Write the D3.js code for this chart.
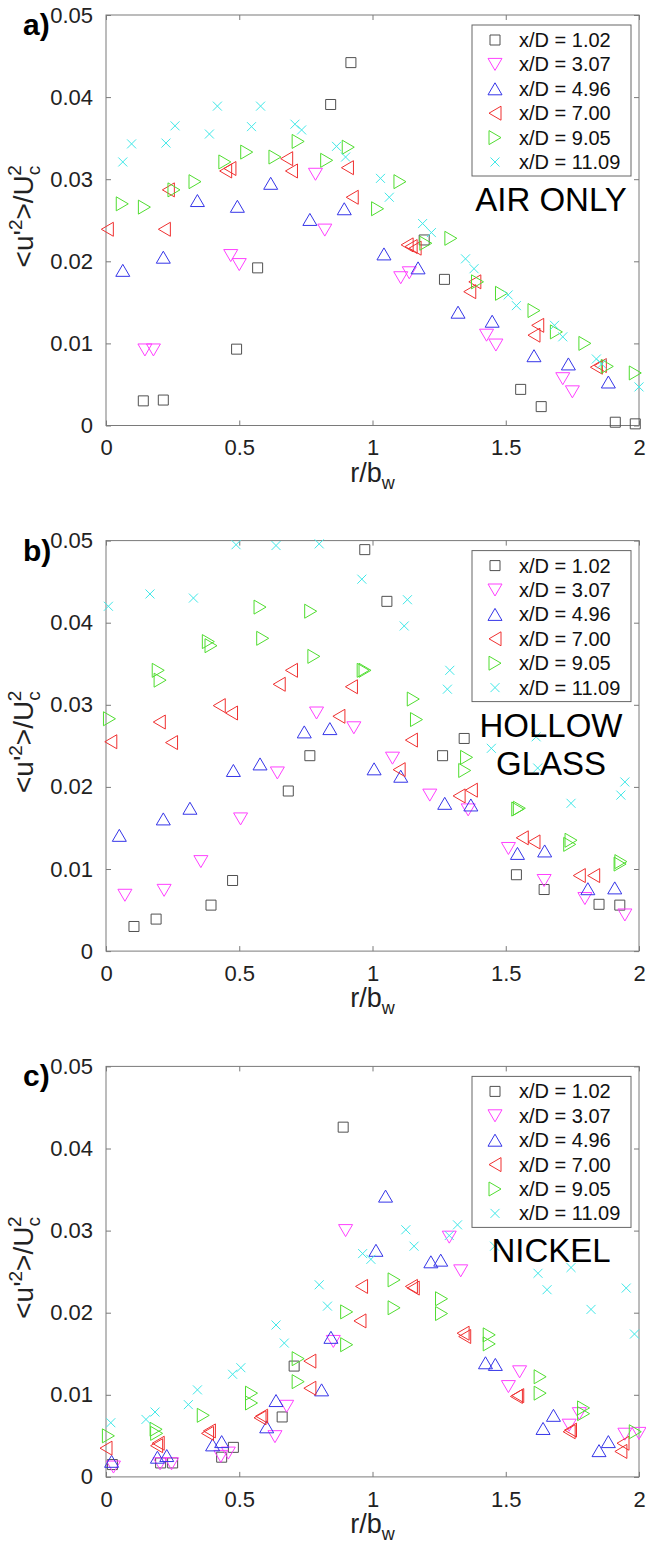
<!DOCTYPE html>
<html><head><meta charset="utf-8">
<script src="https://cdn.jsdelivr.net/npm/d3@7"></script>
<style>body{margin:0;background:#fff}svg{display:block}text{font-family:"Liberation Sans",Arial,Helvetica,sans-serif}</style>
</head><body><svg id="c" width="646" height="1547"></svg>
<script>
// ---------- data ----------
const seriesLabels = ["x/D = 1.02","x/D = 3.07","x/D = 4.96","x/D = 7.00","x/D = 9.05","x/D = 11.09"];
const markerTypes = ["square","down","up","left","right","cross"];
const seriesColors = ["#505050","#ff40ff","#3535e8","#f03030","#50dd30","#40e8e8"];
const xTickValues = [0,0.5,1,1.5,2];
const xTickLabels = ["0","0.5","1","1.5","2"];
const yTickValues = [0,0.01,0.02,0.03,0.04,0.05];
const yTickLabels = ["0","0.01","0.02","0.03","0.04","0.05"];
const panelLetters = ["a)","b)","c)"];
const panelTitles = [["AIR ONLY"],["HOLLOW","GLASS"],["NICKEL"]];

// panel a: AIR ONLY
const airK = [[0.14,0.0030],[0.215,0.0031],[0.49,0.0093],[0.569,0.0192],[0.843,0.0391],[0.919,0.0442],[1.194,0.0226],[1.27,0.0178],[1.556,0.0044],[1.633,0.0023],[1.911,0.0004],[1.986,0.0002]];
const airM = [[0.146,0.0092],[0.178,0.0092],[0.468,0.0207],[0.50,0.0196],[0.786,0.0306],[0.821,0.0238],[1.106,0.0180],[1.138,0.0186],[1.428,0.0110],[1.463,0.0098],[1.714,0.0057],[1.75,0.0041]];
const airB = [[0.063,0.0189],[0.215,0.0205],[0.343,0.0274],[0.493,0.0267],[0.618,0.0295],[0.765,0.0251],[0.894,0.0264],[1.043,0.0209],[1.171,0.0192],[1.321,0.0138],[1.449,0.0127],[1.606,0.0085],[1.735,0.0075],[1.885,0.0053]];
const airR = [[0.005,0.0239],[0.219,0.0239],[0.234,0.0287],[0.449,0.0310],[0.465,0.0313],[0.678,0.0325],[0.696,0.0310],[0.906,0.0314],[0.924,0.0278],[1.13,0.0220],[1.145,0.0218],[1.16,0.0216],[1.365,0.0163],[1.384,0.0175],[1.606,0.0110],[1.62,0.0122],[1.84,0.0071],[1.855,0.0073]];
const airG = [[0.061,0.0270],[0.144,0.0266],[0.255,0.0287],[0.334,0.0297],[0.446,0.0321],[0.528,0.0333],[0.634,0.0327],[0.721,0.0346],[0.828,0.0323],[0.909,0.0339],[1.019,0.0264],[1.103,0.0297],[1.20,0.0222],[1.294,0.0228],[1.394,0.0175],[1.484,0.0161],[1.606,0.0140],[1.69,0.0114],[1.797,0.0100],[1.881,0.0072],[1.986,0.0064]];
const airC = [[0.063,0.0321],[0.096,0.0343],[0.225,0.0344],[0.259,0.0365],[0.388,0.0355],[0.418,0.0389],[0.546,0.0364],[0.58,0.0389],[0.709,0.0367],[0.734,0.0360],[0.865,0.0340],[0.899,0.0327],[1.03,0.0301],[1.063,0.0278],[1.188,0.0246],[1.221,0.0235],[1.349,0.0203],[1.381,0.0191],[1.509,0.0159],[1.54,0.0146],[1.683,0.0122],[1.714,0.0108],[1.84,0.0081],[1.86,0.0075],[2.0,0.0047]];

// panel b: HOLLOW GLASS
const glassK = [[0.105,0.0030],[0.188,0.0039],[0.394,0.0056],[0.475,0.0086],[0.684,0.0195],[0.765,0.0238],[0.971,0.0489],[1.054,0.0426],[1.263,0.0238],[1.344,0.0259],[1.54,0.0093],[1.644,0.0075],[1.85,0.0057],[1.928,0.0056]];
const glassM = [[0.071,0.0068],[0.218,0.0074],[0.356,0.0109],[0.505,0.0161],[0.643,0.0217],[0.79,0.0290],[0.93,0.0272],[1.075,0.0235],[1.215,0.0190],[1.359,0.0172],[1.51,0.0125],[1.644,0.0086],[1.797,0.0064],[1.947,0.0044]];
const glassB = [[0.05,0.0141],[0.215,0.0161],[0.315,0.0174],[0.478,0.0220],[0.578,0.0228],[0.744,0.0267],[0.84,0.0271],[1.006,0.0222],[1.106,0.0213],[1.271,0.0180],[1.369,0.0178],[1.544,0.0119],[1.646,0.0122],[1.808,0.0076],[1.909,0.0077]];
const glassR = [[0.018,0.0255],[0.20,0.0279],[0.246,0.0254],[0.425,0.0299],[0.471,0.0290],[0.65,0.0325],[0.696,0.0342],[0.874,0.0286],[0.921,0.0322],[1.10,0.0221],[1.146,0.0257],[1.325,0.0189],[1.371,0.0196],[1.562,0.0138],[1.606,0.0133],[1.776,0.0092],[1.83,0.0092]];
const glassG = [[0.013,0.0283],[0.196,0.0342],[0.203,0.0330],[0.384,0.0377],[0.394,0.0372],[0.578,0.0419],[0.588,0.0381],[0.768,0.0414],[0.78,0.0359],[0.965,0.0342],[0.972,0.0342],[1.153,0.0307],[1.165,0.0282],[1.346,0.0220],[1.353,0.0236],[1.545,0.0173],[1.551,0.0174],[1.74,0.0130],[1.745,0.0135],[1.929,0.0106],[1.932,0.0109]];
const glassC = [[0.009,0.0420],[0.165,0.0435],[0.328,0.0430],[0.488,0.0495],[0.638,0.0494],[0.80,0.0496],[0.96,0.0453],[1.119,0.0396],[1.131,0.0428],[1.281,0.0319],[1.29,0.0342],[1.446,0.0247],[1.614,0.0261],[1.62,0.0223],[1.745,0.0180],[1.932,0.0190],[1.947,0.0206]];

// panel c: NICKEL
const nickelK = [[0.024,0.0015],[0.205,0.0017],[0.25,0.0017],[0.434,0.0024],[0.478,0.0036],[0.661,0.0073],[0.706,0.0135],[0.89,0.0426]];
const nickelM = [[0.028,0.0012],[0.203,0.0016],[0.246,0.0016],[0.431,0.0025],[0.459,0.0029],[0.634,0.0049],[0.678,0.0086],[0.853,0.0165],[0.899,0.0300],[1.288,0.0292],[1.331,0.0251],[1.51,0.0110],[1.552,0.0128],[1.738,0.0063],[1.776,0.0077],[1.947,0.0052],[2.0,0.0053]];
const nickelB = [[0.021,0.0019],[0.193,0.0024],[0.228,0.0026],[0.40,0.0039],[0.434,0.0043],[0.603,0.0061],[0.638,0.0093],[0.809,0.0106],[0.844,0.0170],[1.013,0.0276],[1.049,0.0342],[1.219,0.0262],[1.256,0.0264],[1.424,0.0139],[1.461,0.0137],[1.64,0.0059],[1.679,0.0075],[1.85,0.0032],[1.885,0.0043]];
const nickelR = [[0.0,0.0035],[0.19,0.0038],[0.196,0.0041],[0.381,0.0053],[0.388,0.0056],[0.578,0.0072],[0.584,0.0074],[0.765,0.0108],[0.765,0.0141],[0.953,0.0190],[0.959,0.0232],[1.146,0.0232],[1.153,0.0230],[1.34,0.0175],[1.346,0.0171],[1.54,0.0098],[1.545,0.0099],[1.738,0.0055],[1.743,0.0057],[1.932,0.0031],[1.94,0.0041]];
const nickelG = [[0.009,0.0050],[0.188,0.0058],[0.19,0.0053],[0.365,0.0075],[0.546,0.0102],[0.546,0.0090],[0.721,0.0144],[0.721,0.0116],[0.903,0.0201],[0.903,0.0161],[1.081,0.0240],[1.081,0.0206],[1.259,0.0217],[1.259,0.0199],[1.438,0.0173],[1.438,0.0162],[1.629,0.0122],[1.629,0.0102],[1.792,0.0084],[1.792,0.0077],[1.986,0.0055]];
const nickelC = [[0.018,0.0066],[0.15,0.0070],[0.184,0.0079],[0.309,0.0088],[0.343,0.0106],[0.475,0.0125],[0.506,0.0133],[0.638,0.0185],[0.669,0.0163],[0.80,0.0234],[0.831,0.0208],[0.963,0.0272],[0.994,0.0265],[1.125,0.0301],[1.156,0.0281],[1.288,0.0294],[1.319,0.0307],[1.458,0.0281],[1.621,0.0248],[1.655,0.0228],[1.745,0.0255],[1.82,0.0204],[1.952,0.0230],[1.983,0.0174]];

const panelData = [
  [airK, airM, airB, airR, airG, airC],
  [glassK, glassM, glassB, glassR, glassG, glassC],
  [nickelK, nickelM, nickelB, nickelR, nickelG, nickelC]
];

// ---------- layout ----------
const plotLeft = 106, plotRight = 639, plotH = 410.5;
const panelTops = [15, 540.6, 1066.4];
const svg = d3.select("#c");

const markerPath = {
  square: "M-5,-5H5V5H-5Z",
  up: "M0,-6L7,6H-7Z",
  down: "M0,6L7,-6H-7Z",
  left: "M-6,0L6,-7V7Z",
  right: "M6,0L-6,-7V7Z",
  cross: "M-4.5,-4.5L4.5,4.5M-4.5,4.5L4.5,-4.5"
};

const x = d3.scaleLinear().domain([0,2]).range([plotLeft, plotRight]);

panelTops.forEach((top, pi) => {
  const bottom = top + plotH;
  const y = d3.scaleLinear().domain([0,0.05]).range([bottom, top]);
  const g = svg.append("g");
  const axisColor = "#7a7a7a";

  // box
  g.append("rect").attr("x", plotLeft).attr("y", top).attr("width", plotRight-plotLeft).attr("height", plotH)
    .attr("fill","none").attr("stroke",axisColor).attr("stroke-width",1);

  // axes (ticks inward, on all sides)
  const xb = d3.axisBottom(x).tickValues(xTickValues).tickFormat((d,i)=>xTickLabels[i]).tickSizeInner(-5).tickSizeOuter(0).tickPadding(14);
  const xt = d3.axisTop(x).tickValues(xTickValues).tickFormat("").tickSizeInner(-5).tickSizeOuter(0);
  const yl = d3.axisLeft(y).tickValues(yTickValues).tickFormat((d,i)=>yTickLabels[i]).tickSizeInner(-5).tickSizeOuter(0).tickPadding(13);
  const yr = d3.axisRight(y).tickValues(yTickValues).tickFormat("").tickSizeInner(-5).tickSizeOuter(0);
  [[xb,`translate(0,${bottom})`],[xt,`translate(0,${top})`],[yl,`translate(${plotLeft},0)`],[yr,`translate(${plotRight},0)`]].forEach(([ax,tr])=>{
    const a = g.append("g").attr("transform",tr).call(ax);
    a.select(".domain").remove();
    a.selectAll("line").attr("stroke",axisColor);
    a.selectAll("text").attr("fill","#222").style("font-size","22px").style("font-family",'"Liberation Sans",Arial,sans-serif');
  });

  // markers
  panelData[pi].forEach((pts, si) => {
    g.append("g").selectAll("path").data(pts).join("path")
      .attr("transform", d => `translate(${x(d[0])},${y(d[1])})`)
      .attr("d", markerPath[markerTypes[si]])
      .attr("fill","none").attr("stroke", seriesColors[si]).attr("stroke-width",1);
  });

  // legend
  const lg = g.append("g");
  lg.append("rect").attr("x",472).attr("y",top+10).attr("width",159).attr("height",151)
    .attr("fill","#fff").attr("stroke","#666").attr("stroke-width",1);
  seriesLabels.forEach((lab, si) => {
    const cy = top + 25 + si*24.4;
    lg.append("path").attr("transform",`translate(495,${cy})`).attr("d",markerPath[markerTypes[si]])
      .attr("fill","none").attr("stroke",seriesColors[si]).attr("stroke-width",1);
    lg.append("text").attr("x",519).attr("y",cy+7).attr("fill","#111").style("font-size","20px").text(lab);
  });

  // titles inside panel
  panelTitles[pi].forEach((t, ti) => {
    g.append("text").attr("x",551).attr("y",top+196+ti*38).attr("text-anchor","middle")
      .attr("fill","#000").style("font-size","33px").text(t);
  });

  // panel letter
  g.append("text").attr("x",23).attr("y",top+20).attr("fill","#000")
    .style("font-size","30px").style("font-weight","bold").text(panelLetters[pi]);

  // x label
  const xl = g.append("text").attr("x",(plotLeft+plotRight)/2).attr("y",bottom+56).attr("text-anchor","middle")
    .attr("fill","#222").style("font-size","27px");
  xl.append("tspan").text("r/b");
  xl.append("tspan").attr("dy",7).style("font-size","18px").text("w");

  // y label
  const cyMid = (top+bottom)/2;
  const ylab = g.append("text").attr("transform",`translate(33,${cyMid - 4}) rotate(-90)`).attr("text-anchor","middle")
    .attr("fill","#222").style("font-size","28px");
  ylab.append("tspan").text("<u'");
  ylab.append("tspan").attr("dy",-11).style("font-size","19px").text("2");
  ylab.append("tspan").attr("dy",11).text(">/U");
  ylab.append("tspan").attr("dy",7).style("font-size","19px").text("c");
  ylab.append("tspan").attr("dx",-10).attr("dy",-19).style("font-size","19px").text("2");
});
</script></body></html>
